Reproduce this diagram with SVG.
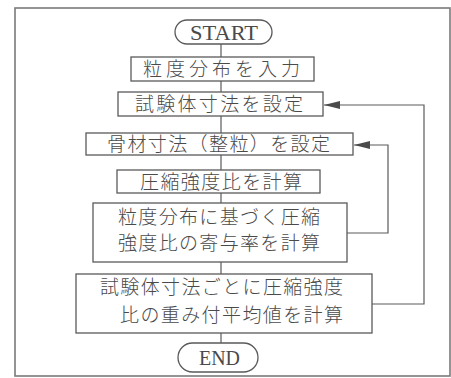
<svg xmlns="http://www.w3.org/2000/svg" width="451" height="378" viewBox="0 0 451 378">
<style>
.frame{fill:none;stroke:#7a7a7a;stroke-width:1.6}
.box{fill:#fff;stroke:#5a5a5a;stroke-width:1.3}
.ln{fill:none;stroke:#5a5a5a;stroke-width:1.2}
.jp{font-family:"Noto Sans CJK JP","Noto Sans",sans-serif;font-size:19px;fill:#4a4a4a;font-weight:300}
.en{font-family:"Liberation Serif",serif;font-size:22px;fill:#4a4a4a}
</style>
<defs>
<marker id="ah" viewBox="0 0 16 10" refX="16" refY="5" markerWidth="16" markerHeight="10" markerUnits="userSpaceOnUse" orient="auto">
<path d="M0,1 L16,5 L0,9 Z" fill="#4a4a4a"/>
</marker>
</defs>
<rect x="0" y="0" width="451" height="378" fill="#fff"/>
<rect class="frame" x="15" y="8" width="435" height="368"/>
<g id="connectors">
<line class="ln" x1="221" y1="44" x2="221" y2="57"/>
<line class="ln" x1="221" y1="81" x2="221" y2="92"/>
<line class="ln" x1="221" y1="116" x2="221" y2="133"/>
<line class="ln" x1="221" y1="155" x2="221" y2="170"/>
<line class="ln" x1="221" y1="193" x2="221" y2="203"/>
<line class="ln" x1="221" y1="262" x2="221" y2="274"/>
<line class="ln" x1="221" y1="333" x2="221" y2="343"/>
<polyline class="ln" points="372,304 424,304 424,105 324,105" marker-end="url(#ah)"/>
<polyline class="ln" points="347,233 388,233 388,145 354,145" marker-end="url(#ah)"/>
</g>
<g id="start">
<rect class="box" x="175" y="20" width="97" height="24" rx="12"/>
<text class="en" x="190" y="40" textLength="68" lengthAdjust="spacingAndGlyphs">START</text>
</g>
<g id="n1">
<rect class="box" x="131" y="57" width="183" height="24"/>
<text class="jp" x="143" y="76" textLength="157" lengthAdjust="spacing">粒度分布を入力</text>
</g>
<g id="n2">
<rect class="box" x="118" y="92" width="205" height="24"/>
<text class="jp" x="135" y="111" textLength="168" lengthAdjust="spacing">試験体寸法を設定</text>
</g>
<g id="n3">
<rect class="box" x="86" y="133" width="267" height="22"/>
<text class="jp" x="107" y="151" textLength="223" lengthAdjust="spacing">骨材寸法（整粒）を設定</text>
</g>
<g id="n4">
<rect class="box" x="117" y="170" width="203" height="23"/>
<text class="jp" x="140" y="188.5" textLength="162" lengthAdjust="spacing">圧縮強度比を計算</text>
</g>
<g id="n5">
<rect class="box" x="93" y="203" width="254" height="59"/>
<text class="jp" x="118" y="223.5" font-size="18" textLength="202" lengthAdjust="spacing">粒度分布に基づく圧縮</text>
<text class="jp" x="118" y="250" font-size="18" textLength="202" lengthAdjust="spacing">強度比の寄与率を計算</text>
</g>
<g id="n6">
<rect class="box" x="76" y="274" width="296" height="59"/>
<text class="jp" x="100" y="294" textLength="243" lengthAdjust="spacing">試験体寸法ごとに圧縮強度</text>
<text class="jp" x="120" y="322" textLength="223" lengthAdjust="spacing">比の重み付平均値を計算</text>
</g>
<g id="end">
<rect class="box" x="178" y="343" width="80" height="29" rx="14.5"/>
<text class="en" x="199" y="365" font-size="20" textLength="41" lengthAdjust="spacingAndGlyphs">END</text>
</g>
</svg>
